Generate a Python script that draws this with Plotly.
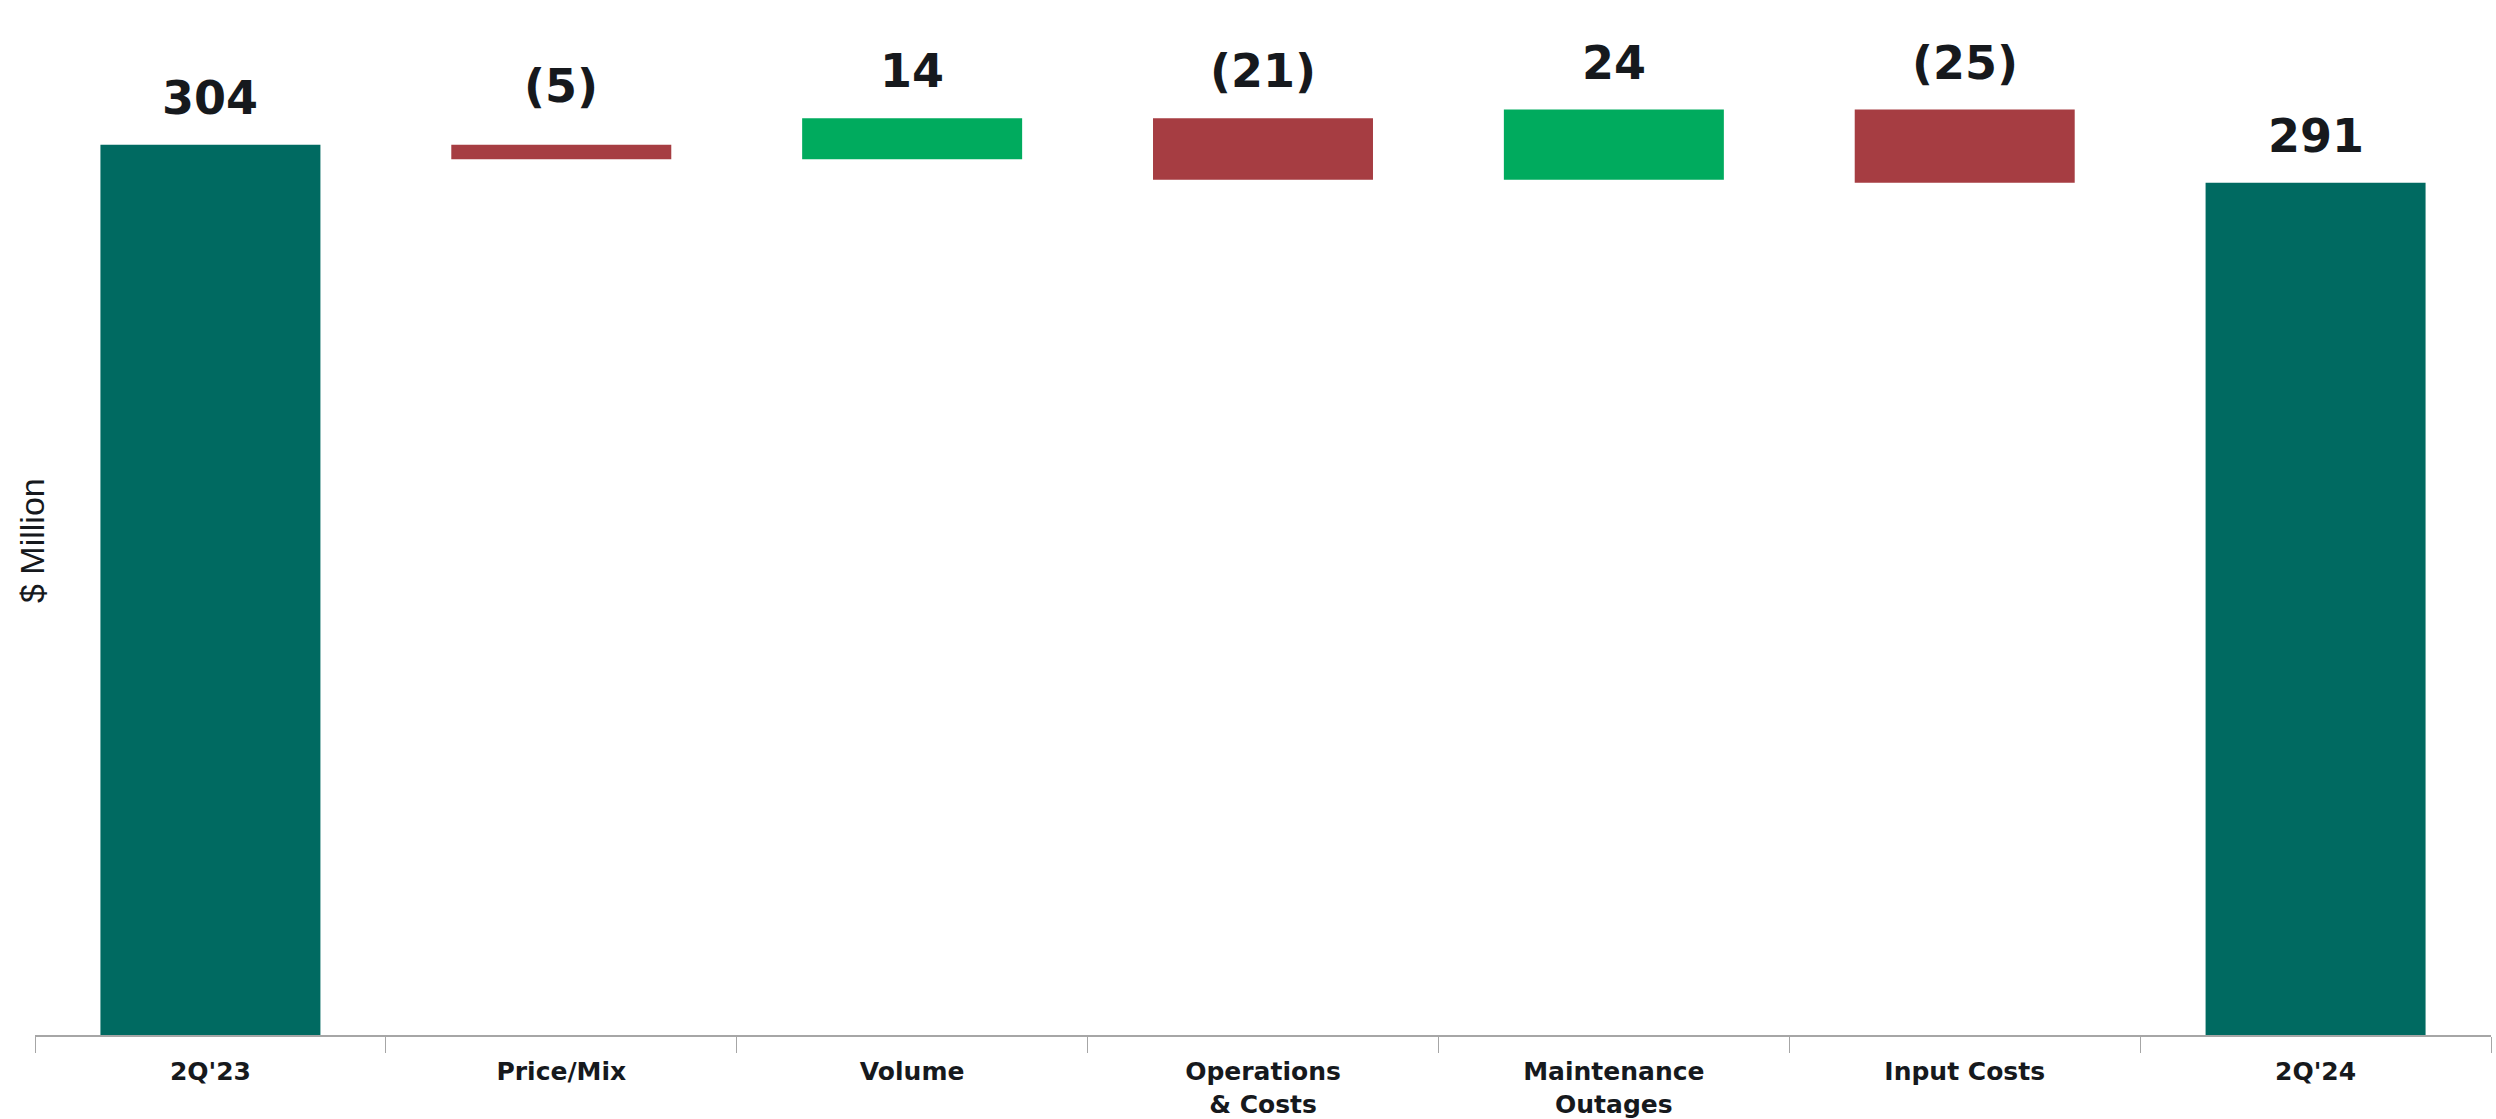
import plotly.graph_objects as go

# ---- data ----
categories = ["2Q'23", "Price/Mix", "Volume", "Operations<br>& Costs",
              "Maintenance<br>Outages", "Input Costs", "2Q'24"]
values = [304, -5, 14, -21, 24, -25, 291]
measures = ["absolute", "relative", "relative", "relative", "relative", "relative", "total"]
value_labels = ["304", "(5)", "14", "(21)", "24", "(25)", "291"]

# ---- styling ----
TEAL = "#006A61"
RED = "#A63D42"
GREEN = "#00AB5E"
TEXT = "#16191D"
AXIS = "#A6A6A6"
W, H = 2496, 1119
ML, MR, MT, MB = 35, 5, 10, 84

fig = go.Figure(go.Waterfall(
    x=categories, y=values, measure=measures,
    totals=dict(marker=dict(color=TEAL)),
    increasing=dict(marker=dict(color=GREEN)),
    decreasing=dict(marker=dict(color=RED)),
    connector=dict(visible=False),
    width=0.627,
    hoverinfo="skip",
))

# bar tops computed from data
tops = []
running = 0
for m, v in zip(measures, values):
    if m == "absolute":
        running = v
        tops.append(v)
    elif m == "total":
        tops.append(running)
    else:
        prev = running
        running += v
        tops.append(max(prev, running))

extra_shift = {1: 12}  # Price/Mix label sits a little higher in the reference
for i, (c, t, lab) in enumerate(zip(categories, tops, value_labels)):
    fig.add_annotation(
        x=c, y=t, xref="x", yref="y", text=lab, showarrow=False,
        yanchor="bottom", xanchor="center", yshift=18 + extra_shift.get(i, 0),
        font=dict(family="DejaVu Sans", size=46, color=TEXT, weight="bold"),
    )

plot_h = H - MT - MB
fig.add_annotation(
    text="$ Million", textangle=-90, showarrow=False,
    xref="paper", yref="paper",
    x=(32 - ML) / (W - ML - MR), y=(H - MB - 541) / plot_h,
    xanchor="center", yanchor="middle",
    font=dict(family="Liberation Sans", size=34, color=TEXT),
)

fig.update_layout(
    width=W, height=H,
    margin=dict(l=ML, r=MR, t=MT, b=MB, autoexpand=False),
    paper_bgcolor="white", plot_bgcolor="white",
    showlegend=False,
    xaxis=dict(
        showline=True, linecolor=AXIS, linewidth=2,
        ticks="outside", tickson="boundaries", ticklen=16,
        tickcolor=AXIS, tickwidth=1, ticklabelstandoff=13,
        tickfont=dict(family="DejaVu Sans", size=25, color=TEXT, weight="bold"),
        showgrid=False, zeroline=False, fixedrange=True, automargin=False,
    ),
    yaxis=dict(
        range=[0, 350], visible=False, showgrid=False, zeroline=False,
        fixedrange=True, automargin=False,
    ),
)

fig.write_html("out.html", config={"displayModeBar": False})
